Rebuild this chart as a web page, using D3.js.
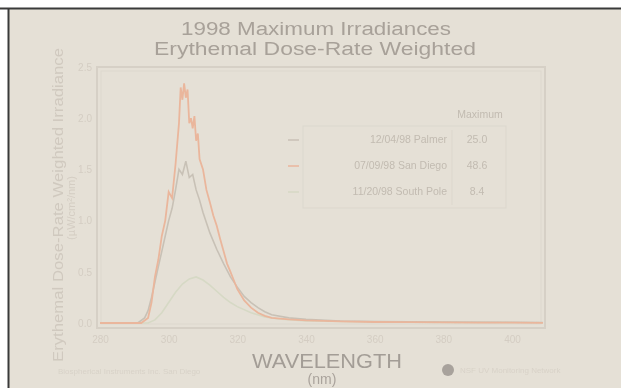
<!DOCTYPE html>
<html>
<head>
<meta charset="utf-8">
<script src="https://cdn.jsdelivr.net/npm/d3@7"></script>
<style>
  body { margin: 0; background: #fff; }
  svg { display: block; font-family: "Liberation Sans", Arial, sans-serif; }
</style>
</head>
<body>
<div id="chart"></div>
<script>
// x ticks (nm) and y ticks
let X_TICKS = [280, 300, 320, 340, 360, 380, 400];
let Y_TICKS = [0, 0.5, 1.0, 1.5, 2.0, 2.5];

// San Diego (orange)
let sdWl  = [280, 292, 294, 295, 296, 297, 298, 299, 300, 301, 302, 303, 303.5, 304, 304.5, 305, 305.5, 306, 306.5, 307, 307.5, 308, 308.5, 309, 310, 311, 312, 313, 314, 315, 316, 317, 318, 320, 322, 324, 326, 328, 330, 335, 340, 350, 360, 370, 380, 390, 400, 409];
let sdVal = [0, 0, 0.05, 0.2, 0.45, 0.62, 0.85, 1.0, 1.28, 1.22, 1.55, 1.95, 2.3, 2.18, 2.34, 2.2, 2.28, 1.95, 2.0, 1.9, 2.02, 1.78, 1.85, 1.6, 1.5, 1.3, 1.18, 1.05, 0.95, 0.82, 0.7, 0.58, 0.5, 0.33, 0.22, 0.15, 0.1, 0.07, 0.05, 0.035, 0.025, 0.015, 0.01, 0.008, 0.006, 0.004, 0.003, 0.002];

// Palmer (grey)
let paWl  = [280, 291, 293, 294, 295, 296, 297, 298, 299, 300, 301, 302, 303, 304, 305, 306, 307, 308, 309, 310, 312, 314, 316, 318, 320, 322, 324, 326, 328, 330, 335, 340, 350, 360, 380, 400, 409];
let paVal = [0, 0, 0.05, 0.12, 0.25, 0.4, 0.55, 0.7, 0.85, 1.0, 1.12, 1.3, 1.5, 1.45, 1.58, 1.42, 1.45, 1.3, 1.2, 1.08, 0.88, 0.72, 0.58, 0.45, 0.35, 0.26, 0.2, 0.15, 0.11, 0.08, 0.05, 0.035, 0.02, 0.015, 0.01, 0.007, 0.005];

// South Pole (pale green)
let spWl  = [280, 294, 296, 298, 300, 302, 304, 306, 308, 310, 312, 314, 316, 318, 320, 324, 328, 332, 340, 360, 380, 409];
let spVal = [0, 0, 0.03, 0.1, 0.2, 0.3, 0.38, 0.43, 0.45, 0.42, 0.37, 0.31, 0.25, 0.2, 0.16, 0.1, 0.06, 0.04, 0.02, 0.01, 0.006, 0.003];

// legend table
let legDates  = ['12/04/98', '07/09/98', '11/20/98'];
let legSites  = ['Palmer', 'San Diego', 'South Pole'];
let legValues = ['25.0', '48.6', '8.4'];
let legColors = ['#c8c1b6', '#eab69c', '#d6d9c5'];

var W = 621, H = 388;
var svg = d3.select("#chart").append("svg")
	.attr("width", W)
	.attr("height", H);

// soft focus, like the photographed slide
var defs = svg.append("defs");
defs.append("filter").attr("id", "soft")
	.attr("x", "-5%").attr("y", "-5%").attr("width", "110%").attr("height", "110%")
	.append("feGaussianBlur").attr("stdDeviation", 0.7);

// paper / slide background
svg.append("rect").attr("x", 0).attr("y", 0).attr("width", W).attr("height", H).attr("fill", "#fff");
svg.append("rect").attr("x", 9).attr("y", 9).attr("width", W - 9).attr("height", H - 9).attr("fill", "#e5e0d6");
svg.append("line").attr("x1", 0).attr("x2", W).attr("y1", 8.5).attr("y2", 8.5).attr("stroke", "#3a3a3a").attr("stroke-width", 2);
svg.append("line").attr("x1", 8.5).attr("x2", 8.5).attr("y1", 8).attr("y2", H).attr("stroke", "#3a3a3a").attr("stroke-width", 2);

var g = svg.append("g").attr("filter", "url(#soft)");

var x = d3.scaleLinear().domain([280, 400]).range([100, 512]);
var y = d3.scaleLinear().domain([0, 2.5]).range([323, 67]);

// title
g.append("text").attr("x", 316).attr("y", 35).attr("text-anchor", "middle")
	.attr("font-size", 18).attr("fill", "#a8a199")
	.attr("textLength", 270).attr("lengthAdjust", "spacingAndGlyphs")
	.text("1998  Maximum Irradiances");
g.append("text").attr("x", 315).attr("y", 55).attr("text-anchor", "middle")
	.attr("font-size", 18).attr("fill", "#a8a199")
	.attr("textLength", 322).attr("lengthAdjust", "spacingAndGlyphs")
	.text("Erythemal  Dose-Rate  Weighted");

// plot frame
g.append("rect").attr("x", 97).attr("y", 67).attr("width", 448).attr("height", 261)
	.attr("fill", "none").attr("stroke", "#d6d0c6").attr("stroke-width", 2);
g.append("rect").attr("x", 101).attr("y", 71).attr("width", 440).attr("height", 253)
	.attr("fill", "none").attr("stroke", "#ddd8ce").attr("stroke-width", 1);

// axes (labels only, faded)
var xAxis = d3.axisBottom(x).tickValues(X_TICKS).tickSize(0).tickPadding(0);
var gx = g.append("g").attr("transform", "translate(0,336)").call(xAxis);
gx.select(".domain").remove();
gx.selectAll("text").attr("font-size", 10).attr("fill", "#d4cdc3").attr("font-family", "Liberation Sans, Arial, sans-serif");

var yAxis = d3.axisLeft(y).tickValues(Y_TICKS).tickSize(0).tickPadding(0).tickFormat(d3.format(".1f"));
var gy = g.append("g").attr("transform", "translate(92,0)").call(yAxis);
gy.select(".domain").remove();
gy.selectAll("text").attr("font-size", 10).attr("fill", "#d4cdc3").attr("font-family", "Liberation Sans, Arial, sans-serif");

// y axis title
g.append("text").attr("transform", "translate(63,205) rotate(-90)").attr("text-anchor", "middle")
	.attr("font-size", 14).attr("fill", "#d0c9bf")
	.attr("textLength", 314).attr("lengthAdjust", "spacingAndGlyphs")
	.text("Erythemal Dose-Rate Weighted Irradiance");
g.append("text").attr("transform", "translate(75,208) rotate(-90)").attr("text-anchor", "middle")
	.attr("font-size", 11).attr("fill", "#d4cdc3")
	.text("(\u00b5W/cm\u00b2/nm)");

// curves
var line = d3.line()
	.x(function(d) { return x(d[0]); })
	.y(function(d) { return y(d[1]); });

function pairs(wl, val) {
	return wl.map(function(w, i) { return [w, val[i]]; });
}

g.append("path").datum(pairs(spWl, spVal)).attr("d", line)
	.attr("fill", "none").attr("stroke", "#d6d9c5").attr("stroke-width", 1.6);
g.append("path").datum(pairs(paWl, paVal)).attr("d", line)
	.attr("fill", "none").attr("stroke", "#c8c1b6").attr("stroke-width", 1.6);
g.append("path").datum(pairs(sdWl, sdVal)).attr("d", line)
	.attr("fill", "none").attr("stroke", "#eab69c").attr("stroke-width", 1.8);

// legend
var leg = g.append("g").attr("font-size", 10.5).attr("fill", "#c2bbb1");
leg.append("rect").attr("x", 303).attr("y", 126).attr("width", 203).attr("height", 82)
	.attr("fill", "none").attr("stroke", "#dcd7cd").attr("stroke-width", 1);
leg.append("line").attr("x1", 452).attr("x2", 452).attr("y1", 130).attr("y2", 205)
	.attr("stroke", "#dcd7cd");
leg.append("text").attr("x", 480).attr("y", 118).attr("text-anchor", "middle").text("Maximum");

legSites.forEach(function(s, i) {
	var ry = 143 + i * 26;
	leg.append("line").attr("x1", 288).attr("x2", 299).attr("y1", ry - 3).attr("y2", ry - 3)
		.attr("stroke", legColors[i]).attr("stroke-width", 1.5);
	leg.append("text").attr("x", 447).attr("y", ry).attr("text-anchor", "end")
		.text(legDates[i] + "  " + s);
	leg.append("text").attr("x", 477).attr("y", ry).attr("text-anchor", "middle")
		.text(legValues[i]);
});

// x axis title
g.append("text").attr("x", 327).attr("y", 368).attr("text-anchor", "middle")
	.attr("font-size", 20).attr("fill", "#a39d96")
	.attr("textLength", 150).attr("lengthAdjust", "spacingAndGlyphs")
	.text("WAVELENGTH");
g.append("text").attr("x", 322).attr("y", 384).attr("text-anchor", "middle")
	.attr("font-size", 14).attr("fill", "#aaa39c")
	.text("(nm)");

// footer marks
g.append("text").attr("x", 58).attr("y", 374).attr("font-size", 8).attr("fill", "#d8d2c8")
	.text("Biospherical Instruments Inc.  San Diego");
g.append("circle").attr("cx", 448).attr("cy", 370).attr("r", 6).attr("fill", "#a8a29c");
g.append("text").attr("x", 460).attr("y", 373).attr("font-size", 8).attr("fill", "#d8d2c8")
	.text("NSF UV Monitoring Network");
</script>
</body>
</html>
